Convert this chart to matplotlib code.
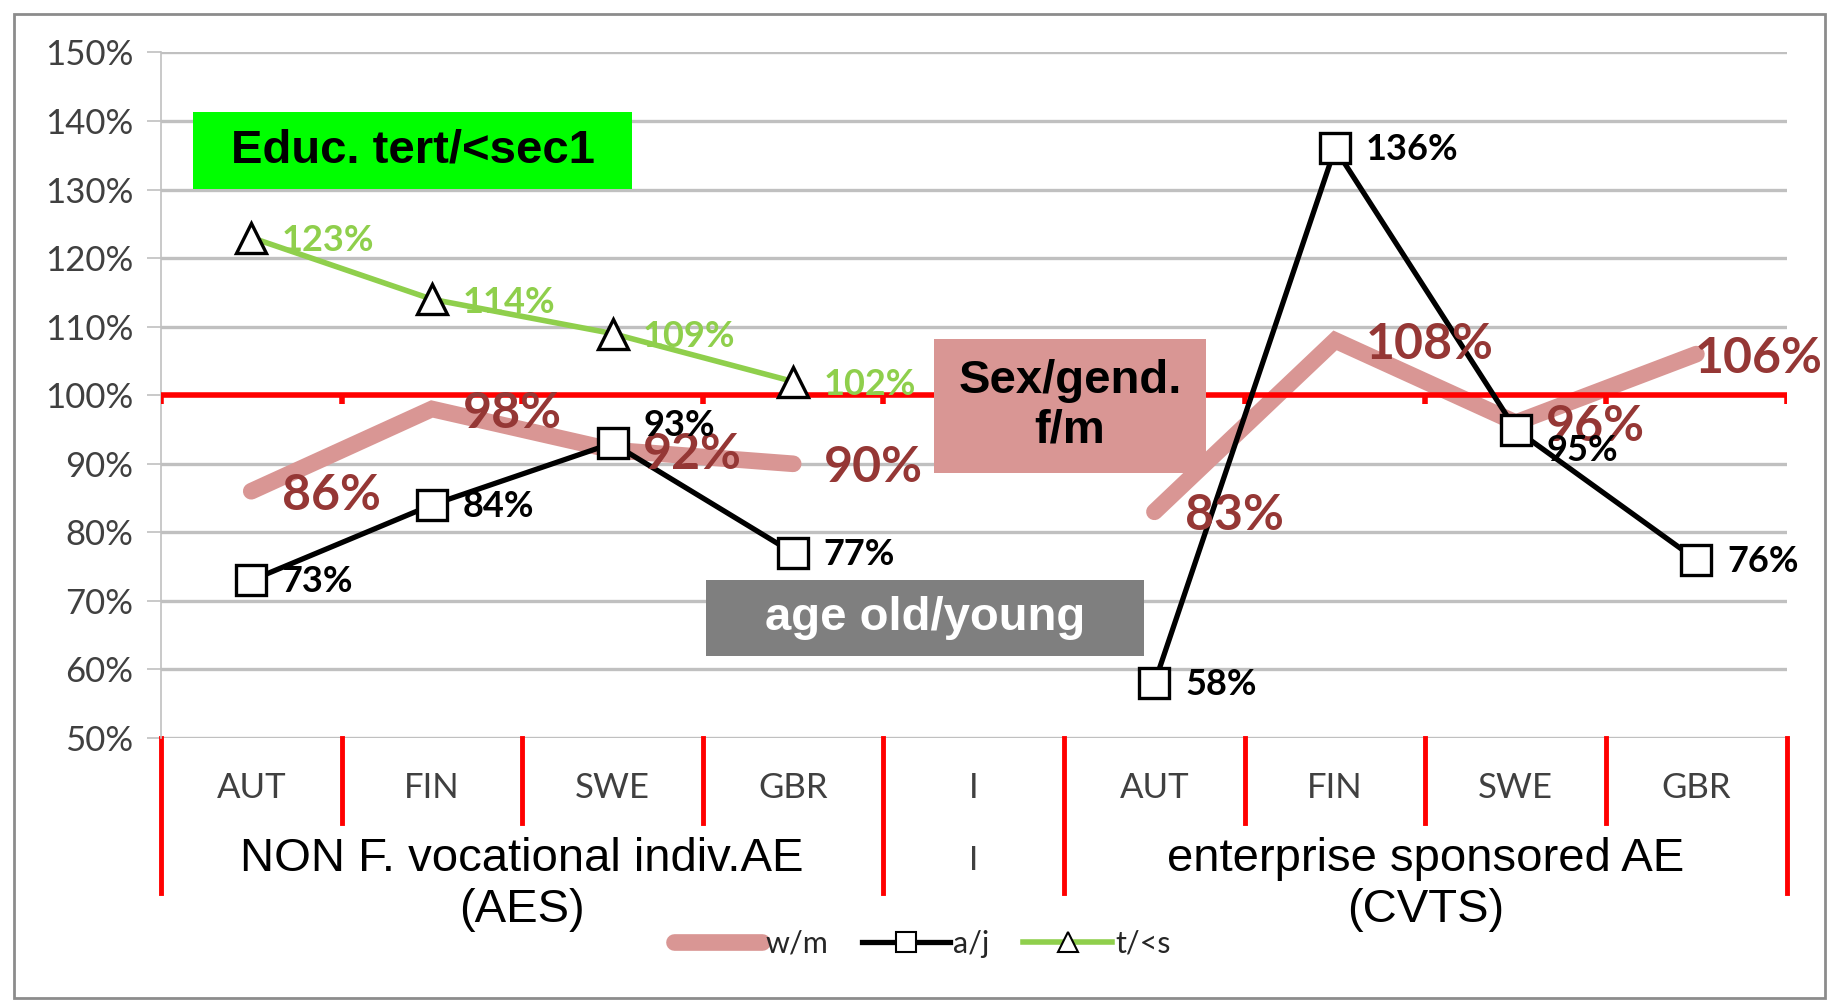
"""
Relative participation ratios in adult education, AES vs CVTS.
Re-drawn line chart with labelled points and coloured call-out boxes.
"""
import numpy as np
import matplotlib.pyplot as plt
from matplotlib.patches import Rectangle
from matplotlib.lines import Line2D
from matplotlib.transforms import blended_transform_factory

categories = ["AUT", "FIN", "SWE", "GBR", "I", "AUT", "FIN", "SWE", "GBR"]
groups = ["NON F. vocational indiv.AE\n(AES)", "I", "enterprise sponsored AE\n(CVTS)"]
group_spans = [(0, 3), (4, 4), (5, 8)]

women_men = [86, 98, 92, 90, np.nan, 83, 108, 96, 106]
old_young = [73, 84, 93, 77, np.nan, 58, 136, 95, 76]
tert_sec = [123, 114, 109, 102, np.nan, np.nan, np.nan, np.nan, np.nan]

yticks = list(range(50, 151, 10))

PINK = "#D99694"
DARKRED = "#953735"
GREEN = "#8FCF4C"
RED = "#FF0000"
GRID = "#C0C0C0"
TXT = "#404040"

NUM_FONT = ["Lato", "DejaVu Sans"]
BOX_FONT = ["Liberation Sans", "DejaVu Sans"]

fig = plt.figure(figsize=(18.31, 10.01), dpi=100)
ax = fig.add_axes([0.0879, 0.2627, 0.8879, 0.6849])

x = np.arange(len(categories))
bounds = np.arange(len(categories) + 1) - 0.5

ax.set_xlim(-0.5, len(categories) - 0.5)
ax.set_ylim(50, 150)
ax.set_yticks(yticks)
ax.set_yticklabels([f"{v}%" for v in yticks], fontsize=25, color=TXT, family=NUM_FONT)
ax.tick_params(axis="y", length=10, width=1.2, color=GRID, pad=10)
ax.set_xticks([])
ax.yaxis.grid(True, color=GRID, lw=2.4, zorder=0)
ax.set_axisbelow(True)
for side in ["top", "right", "bottom"]:
    ax.spines[side].set_visible(False)
ax.spines["left"].set_color(GRID)
ax.spines["left"].set_linewidth(1.2)

# series
ax.plot(x, women_men, color=PINK, lw=12, solid_capstyle="round",
        solid_joinstyle="miter", zorder=2)
ax.axhline(100, color=RED, lw=4, zorder=3)
ax.vlines(bounds, 98.7, 100, color=RED, lw=4, zorder=3)
ax.plot(x, old_young, color="black", lw=3.8, marker="s", ms=21,
        mfc="white", mec="black", mew=2.4, zorder=4)
ax.plot(x, tert_sec, color=GREEN, lw=4, marker="^", ms=22,
        mfc="white", mec="black", mew=2.4, zorder=4)

# data labels
wm_dx = {8: -1}
for i, v in enumerate(women_men):
    if np.isnan(v):
        continue
    ax.annotate(f"{v:.0f}%", (x[i], v), xytext=(wm_dx.get(i, 22), -3),
                textcoords="offset points", ha="left", va="center",
                fontsize=36, fontweight="bold", color=DARKRED,
                family=NUM_FONT, zorder=6)

oy_dy = {2: 13, 7: -15}
for i, v in enumerate(old_young):
    if np.isnan(v):
        continue
    ax.annotate(f"{v:.0f}%", (x[i], v), xytext=(22, oy_dy.get(i, -1)),
                textcoords="offset points", ha="left", va="center",
                fontsize=26, fontweight="bold", color="black",
                family=NUM_FONT, zorder=6)

for i, v in enumerate(tert_sec):
    if np.isnan(v):
        continue
    ax.annotate(f"{v:.0f}%", (x[i], v), xytext=(22, -2),
                textcoords="offset points", ha="left", va="center",
                fontsize=26, fontweight="bold", color=GREEN,
                family=NUM_FONT, zorder=6)

# category axis below the plot
trans = blended_transform_factory(ax.transData, ax.transAxes)
long_bounds = {bounds[0], bounds[-1]}
for a, b in group_spans:
    long_bounds.add(a - 0.5)
    long_bounds.add(b + 0.5)
for bx in bounds:
    y1 = -0.226 if bx in long_bounds else -0.124
    ax.plot([bx, bx], [0, y1], color=RED, lw=3.5, transform=trans, clip_on=False)

for xi, lab in zip(x, categories):
    ax.text(xi, -0.073, lab, transform=trans, ha="center", va="center",
            fontsize=25, color=TXT, family=NUM_FONT)

for (a, b), lab in zip(group_spans, groups):
    two = "\n" in lab
    ax.text((a + b) / 2, -0.145 if two else -0.158, lab, transform=trans,
            ha="center", va="top", fontsize=34 if two else 24,
            color="black" if two else TXT, family=BOX_FONT if two else NUM_FONT,
            linespacing=1.2)

# call-out boxes (figure fraction)
boxes = [
    ((0.1054, 0.8112, 0.2398, 0.0769), "#00FF00", "Educ. tert/<sec1", "black"),
    ((0.5101, 0.5275, 0.1486, 0.1339), PINK, "Sex/gend.\nf/m", "black"),
    ((0.3856, 0.3447, 0.2392, 0.0759), "#7F7F7F", "age old/young", "white"),
]
for (bx0, by0, bw, bh), fc, lab, tc in boxes:
    fig.patches.append(Rectangle((bx0, by0), bw, bh, transform=fig.transFigure,
                                 facecolor=fc, edgecolor="none", zorder=5))
    fig.text(bx0 + bw / 2, by0 + bh / 2, lab, ha="center", va="center",
             fontsize=34, fontweight="bold", color=tc, family=BOX_FONT,
             linespacing=1.15, zorder=6)

# legend
handles = [
    Line2D([], [], color=PINK, lw=12, solid_capstyle="round"),
    Line2D([], [], color="black", lw=3.8, marker="s", ms=14, mfc="white", mec="black", mew=1.5),
    Line2D([], [], color=GREEN, lw=4, marker="^", ms=14, mfc="white", mec="black", mew=1.5),
]
leg = fig.legend(handles, ["w/m", "a/j", "t/<s"], loc="center", ncol=3,
                 bbox_to_anchor=(0.5036, 0.057), frameon=False,
                 handlelength=2.9, handletextpad=0.1, columnspacing=1.1,
                 prop={"family": NUM_FONT, "size": 22})
for t in leg.get_texts():
    t.set_color("#262626")

# outer frame
fig.patches.append(Rectangle((0.0076, 0.003), 0.989, 0.983, transform=fig.transFigure,
                             fill=False, edgecolor="#8C8C8C", lw=2))

fig.savefig("out.png", dpi=100, facecolor="white")
